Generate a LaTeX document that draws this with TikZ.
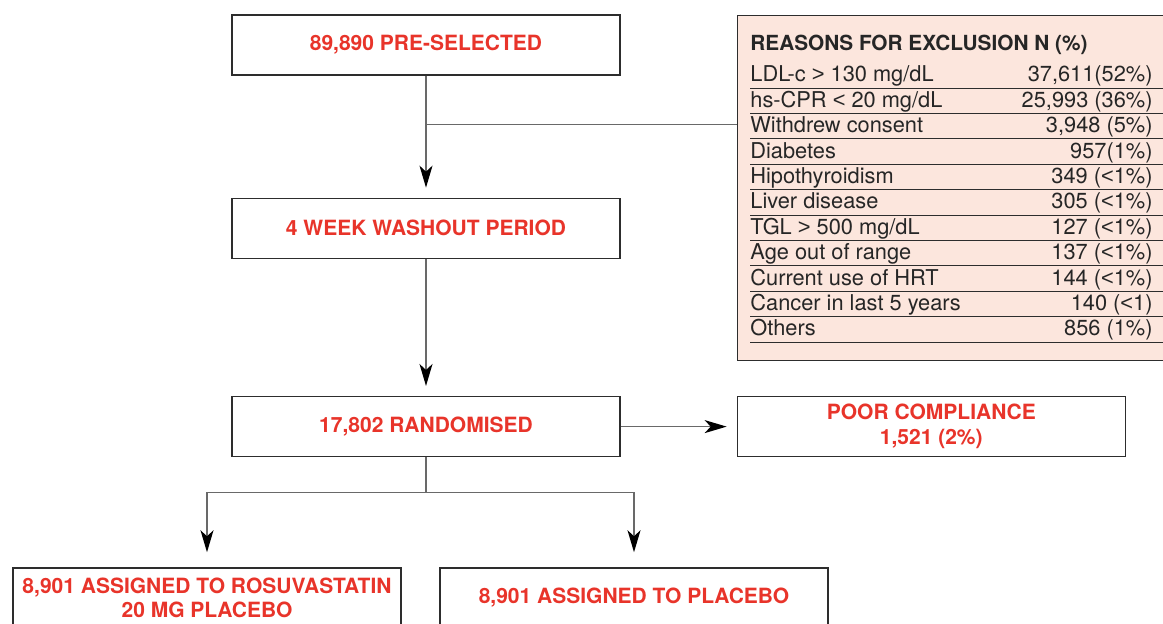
\documentclass[tikz,border=0pt]{standalone}
\usepackage{fontspec}
\setmainfont{TeX Gyre Heros}
\newfontfamily\relfont{Liberation Sans}
\newcommand{\lessmark}{{\relfont<}}
\newcommand{\moremark}{{\relfont>}}
\usetikzlibrary{positioning, arrows.meta, calc}
\definecolor{flowred}{RGB}{232,52,42}
\definecolor{exclpink}{RGB}{252,230,221}
\definecolor{linegray}{RGB}{105,105,105}
\definecolor{boxgray}{RGB}{45,45,45}
\tikzstyle{stagebox} = [
rectangle,
minimum width=194pt,
minimum height=30pt,
inner sep=0pt,
align=center,
draw=boxgray,
line width=0.65pt,
text=flowred,
font=\fontsize{10.5}{12.3}\selectfont\bfseries
]
\tikzstyle{exclbox} = [
rectangle,
minimum width=220pt,
minimum height=172.5pt,
inner sep=0pt,
anchor=north west,
draw=boxgray,
line width=0.65pt,
fill=exclpink
]
\tikzstyle{rowtext} = [
inner sep=0pt,
text=black!85,
font=\fontsize{10.9}{12}\selectfont
]
\tikzstyle{rowrule} = [draw=boxgray, line width=0.5pt]
\tikzstyle{feed} = [draw=linegray, line width=0.75pt]
\tikzstyle{arrow}=[feed, -{Stealth[length=11pt,width=6.5pt,inset=3pt,black]}, shorten >=5pt]

\begin{document}
\begin{tikzpicture}[x=0.5pt, y=-0.5pt, node distance=61pt]
        \useasboundingbox (0,0) rectangle (1163,623);
        
        \node (pre) [stagebox] at (426,45) {89,890 PRE-SELECTED};
        
        \node (wash) [stagebox, below=of pre] {4 WEEK WASHOUT PERIOD};
        
        \node (rand) [stagebox, below=68.5pt of wash] {17,802 RANDOMISED};
        
        \node (poor) [stagebox, right=58pt of rand]
        {POOR COMPLIANCE\\1,521 (2\%)};
        
        \node (rosu) [stagebox, below=55pt of rand, xshift=-109.5pt]
        {8,901 ASSIGNED TO ROSUVASTATIN\\20 MG PLACEBO};
        
        \node (plac) [stagebox, below=55pt of rand, xshift=104pt]
        {8,901 ASSIGNED TO PLACEBO};
        
        % exclusion table
        \node (excl) [exclbox] at (737,15) {};
        
        \node (head) [rowtext, anchor=base west,
        font=\fontsize{10.4}{12}\selectfont\bfseries]
        at ($(excl.north west)+(13,35)$) {REASONS FOR EXCLUSION N (\%)};
        
        \foreach \why/\cnt [count=\i from 0] in {
                {LDL-c \moremark{} 130 mg/dL}/{37,611(52\%)},
                {hs-CPR \lessmark{} 20 mg/dL}/{25,993 (36\%)},
                {Withdrew consent}/{3,948 (5\%)},
                {Diabetes}/{957(1\%)},
                {Hipothyroidism}/{349 (\lessmark1\%)},
                {Liver disease}/{305 (\lessmark1\%)},
                {TGL \moremark{} 500 mg/dL}/{127 (\lessmark1\%)},
                {Age out of range}/{137 (\lessmark1\%)},
                {Current use of HRT}/{144 (\lessmark1\%)},
                {Cancer in last 5 years}/{140 (\lessmark1)},
                {Others}/{856 (1\%)}} {
                \node (why\i) [rowtext, anchor=base west]
                at ($(excl.north west)+(13,66.8+25.4*\i)$) {\why};
                \node (cnt\i) [rowtext, anchor=base east]
                at ($(excl.north west)+(416,66.8+25.4*\i)$) {\cnt};
                \draw [rowrule] ($(excl.north west)+(13,73+25.4*\i)$) -- ++(420,0);
        }
        
        \coordinate (join) at ($(pre.south)!0.4!(wash.north)$);
        
        \coordinate (split) at ($(rand.south)+(0,35)$);
        
        \draw [arrow] (pre)--(wash);
        
        \draw [feed] (excl.west |- join)--(join);
        
        \draw [arrow] (wash)--(rand);
        
        \draw [arrow] (rand)--(poor);
        
        \draw [feed] (rand)--(split);
        
        \draw [arrow, shorten >=7.5pt] (split) -| (rosu);
        
        \draw [arrow, shorten >=7.5pt] (split) -| (plac);
        
\end{tikzpicture}
\end{document}
